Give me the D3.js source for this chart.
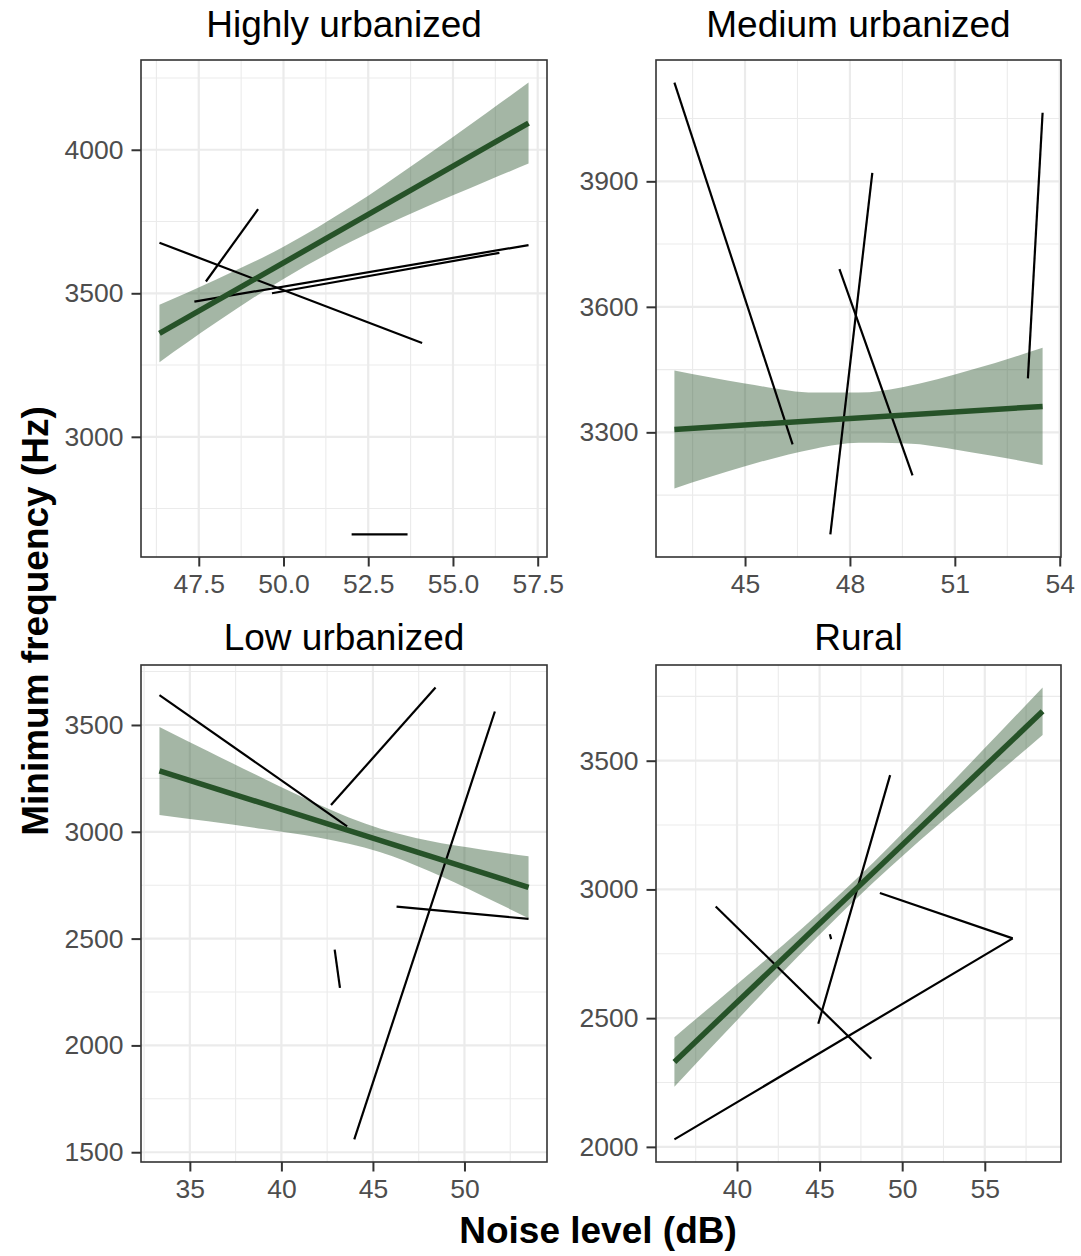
<!DOCTYPE html>
<html><head><meta charset="utf-8">
<script src="https://cdn.jsdelivr.net/npm/d3@7"></script>
<style>
body{margin:0;background:#fff;}
text{font-family:"Liberation Sans", Arial, Helvetica, sans-serif;}
</style>
</head><body>
<svg id="c" width="1081" height="1256"></svg>
<script>
// ---------- DATA ----------
const panelTitles = ["Highly urbanized", "Medium urbanized", "Low urbanized", "Rural"];

// Highly urbanized
const hiFitX = [46.34, 57.23];
const hiFitY = [3360, 4093];
const hiBandX  = [46.34, 48, 50, 52, 54, 56, 57.23];
const hiBandLo = [3260, 3397, 3550, 3680, 3790, 3891, 3952];
const hiBandHi = [3460, 3547, 3662, 3802, 3962, 4129, 4234];
const hiSegs = [
  [46.34, 3676, 54.09, 3327],
  [47.71, 3541, 49.25, 3793],
  [47.37, 3471, 57.23, 3668],
  [49.66, 3500, 56.37, 3641],
  [52.01, 2660, 53.66, 2660]
];
const hiXTicks = [47.5, 50, 52.5, 55, 57.5];
const hiXLabels = ["47.5", "50.0", "52.5", "55.0", "57.5"];
const hiYTicks = [3000, 3500, 4000];

// Medium urbanized
const mdFitX = [42.98, 53.51];
const mdFitY = [3307, 3362];
const mdBandX  = [42.98, 45, 47, 48.25, 49.5, 51.5, 53.51];
const mdBandLo = [3166, 3219, 3261, 3275, 3274, 3252, 3222];
const mdBandHi = [3448, 3417, 3395, 3395, 3408, 3450, 3502];
const mdSegs = [
  [42.98, 4136, 46.36, 3271],
  [47.44, 3056, 48.64, 3920],
  [47.70, 3690, 49.79, 3197],
  [53.09, 3429, 53.51, 4064]
];
const mdXTicks = [45, 48, 51, 54];
const mdXLabels = ["45", "48", "51", "54"];
const mdYTicks = [3300, 3600, 3900];

// Low urbanized
const loFitX = [33.34, 53.5];
const loFitY = [3285, 2740];
const loBandX  = [33.34, 36, 39, 42, 45.37, 48, 51, 53.5];
const loBandLo = [3079, 3049, 3013, 2973, 2905, 2819, 2700, 2595];
const loBandHi = [3491, 3377, 3251, 3129, 3015, 2959, 2916, 2885];
const loSegs = [
  [33.34, 3640, 43.59, 3025],
  [42.71, 3125, 48.42, 3675],
  [43.98, 1560, 51.66, 3563],
  [46.29, 2650, 53.50, 2592],
  [42.91, 2448, 43.20, 2269]
];
const loXTicks = [35, 40, 45, 50];
const loXLabels = ["35", "40", "45", "50"];
const loYTicks = [1500, 2000, 2500, 3000, 3500];

// Rural
const ruFitX = [36.21, 58.5];
const ruFitY = [2330, 3692];
const ruBandX  = [36.21, 40, 44, 47.36, 51, 55, 58.5];
const ruBandLo = [2234, 2492, 2760, 2973, 3186, 3407, 3600];
const ruBandHi = [2426, 2632, 2852, 3049, 3282, 3549, 3784];
const ruSegs = [
  [36.21, 2029, 56.69, 2810],
  [48.65, 2986, 56.69, 2810],
  [38.71, 2934, 48.13, 2342],
  [44.92, 2478, 49.27, 3444],
  [45.62, 2826, 45.70, 2807]
];
const ruXTicks = [40, 45, 50, 55];
const ruXLabels = ["40", "45", "50", "55"];
const ruYTicks = [2000, 2500, 3000, 3500];

const xTitle = "Noise level (dB)";
const yTitle = "Minimum frequency (Hz)";

// ---------- LAYOUT ----------
const colsX = [[141, 547], [656, 1061]];
const rowsY = [[60, 557], [665, 1162]];
const titleBase = [37, 650];
const fitColor = "#265228";

const panels = [
  {fx: hiFitX, fy: hiFitY, bx: hiBandX, blo: hiBandLo, bhi: hiBandHi, segs: hiSegs, xt: hiXTicks, xl: hiXLabels, yt: hiYTicks},
  {fx: mdFitX, fy: mdFitY, bx: mdBandX, blo: mdBandLo, bhi: mdBandHi, segs: mdSegs, xt: mdXTicks, xl: mdXLabels, yt: mdYTicks},
  {fx: loFitX, fy: loFitY, bx: loBandX, blo: loBandLo, bhi: loBandHi, segs: loSegs, xt: loXTicks, xl: loXLabels, yt: loYTicks},
  {fx: ruFitX, fy: ruFitY, bx: ruBandX, blo: ruBandLo, bhi: ruBandHi, segs: ruSegs, xt: ruXTicks, xl: ruXLabels, yt: ruYTicks}
];

const svg = d3.select("#c");
svg.append("rect").attr("width", 1081).attr("height", 1256).attr("fill", "#fff");

function expand(ext) {
  const d = (ext[1] - ext[0]) * 0.05;
  return [ext[0] - d, ext[1] + d];
}
function minorBreaks(major, dom) {
  const step = major[1] - major[0];
  const ext = [major[0] - step, ...major, major[major.length - 1] + step];
  const out = [];
  for (let i = 0; i < ext.length - 1; i++) {
    const m = (ext[i] + ext[i + 1]) / 2;
    if (m >= dom[0] && m <= dom[1]) out.push(m);
  }
  return out;
}

panels.forEach((p, i) => {
  const [x0, x1] = colsX[i % 2];
  const [y0, y1] = rowsY[Math.floor(i / 2)];
  const allX = [...p.fx, ...p.bx, ...p.segs.flatMap(s => [s[0], s[2]])];
  const allY = [...p.fy, ...p.blo, ...p.bhi, ...p.segs.flatMap(s => [s[1], s[3]])];
  const xDom = expand(d3.extent(allX));
  const yDom = expand(d3.extent(allY));
  const x = d3.scaleLinear().domain(xDom).range([x0, x1]);
  const y = d3.scaleLinear().domain(yDom).range([y1, y0]);

  const g = svg.append("g");
  const cid = "clip" + i;
  g.append("clipPath").attr("id", cid).append("rect")
    .attr("x", x0).attr("y", y0).attr("width", x1 - x0).attr("height", y1 - y0);
  const pg = g.append("g").attr("clip-path", `url(#${cid})`);

  // minor grid
  minorBreaks(p.xt, xDom).forEach(v => {
    pg.append("line").attr("x1", x(v)).attr("x2", x(v)).attr("y1", y0).attr("y2", y1)
      .attr("stroke", "#EBEBEB").attr("stroke-width", 1.1);
  });
  minorBreaks(p.yt, yDom).forEach(v => {
    pg.append("line").attr("y1", y(v)).attr("y2", y(v)).attr("x1", x0).attr("x2", x1)
      .attr("stroke", "#EBEBEB").attr("stroke-width", 1.1);
  });
  // major grid
  p.xt.forEach(v => {
    pg.append("line").attr("x1", x(v)).attr("x2", x(v)).attr("y1", y0).attr("y2", y1)
      .attr("stroke", "#EBEBEB").attr("stroke-width", 2.2);
  });
  p.yt.forEach(v => {
    pg.append("line").attr("y1", y(v)).attr("y2", y(v)).attr("x1", x0).attr("x2", x1)
      .attr("stroke", "#EBEBEB").attr("stroke-width", 2.2);
  });

  // ribbon
  const band = p.bx.map((v, k) => ({x: v, lo: p.blo[k], hi: p.bhi[k]}));
  pg.append("path").datum(band)
    .attr("d", d3.area().x(d => x(d.x)).y0(d => y(d.lo)).y1(d => y(d.hi)).curve(d3.curveMonotoneX))
    .attr("fill", fitColor).attr("fill-opacity", 0.42);

  // segments
  pg.selectAll("line.seg").data(p.segs).enter().append("line").attr("class", "seg")
    .attr("x1", d => x(d[0])).attr("y1", d => y(d[1]))
    .attr("x2", d => x(d[2])).attr("y2", d => y(d[3]))
    .attr("stroke", "#000").attr("stroke-width", 2.2);

  // fit line
  const fit = p.fx.map((v, k) => [v, p.fy[k]]);
  pg.append("path").datum(fit)
    .attr("d", d3.line().x(d => x(d[0])).y(d => y(d[1])))
    .attr("fill", "none").attr("stroke", fitColor).attr("stroke-width", 5.5);

  // border
  g.append("rect").attr("x", x0).attr("y", y0).attr("width", x1 - x0).attr("height", y1 - y0)
    .attr("fill", "none").attr("stroke", "#333333").attr("stroke-width", 1.6);

  // axes
  const xAxis = d3.axisBottom(x).tickValues(p.xt).tickFormat((d, k) => p.xl[k]).tickSize(9.5).tickPadding(8);
  const xa = g.append("g").attr("transform", `translate(0,${y1})`).call(xAxis);
  const yAxis = d3.axisLeft(y).tickValues(p.yt).tickFormat(d3.format("d")).tickSize(9.5).tickPadding(8);
  const ya = g.append("g").attr("transform", `translate(${x0},0)`).call(yAxis);
  [xa, ya].forEach(a => {
    a.select(".domain").remove();
    a.selectAll(".tick line").attr("stroke", "#333333").attr("stroke-width", 2);
    a.selectAll(".tick text").attr("fill", "#4D4D4D").style("font-size", "26.5px")
      .style("font-family", '"Liberation Sans", Arial, sans-serif');
  });
  xa.selectAll(".tick text").attr("dy", "0.71em");

  // strip title
  g.append("text").attr("x", (x0 + x1) / 2).attr("y", titleBase[Math.floor(i / 2)])
    .attr("text-anchor", "middle").attr("fill", "#000").style("font-size", "37px")
    .text(panelTitles[i]);
});

// axis titles
svg.append("text").attr("x", 598).attr("y", 1243).attr("text-anchor", "middle")
  .style("font-size", "37px").style("font-weight", "bold").text(xTitle);
svg.append("text").attr("transform", "translate(48,621) rotate(-90)").attr("text-anchor", "middle")
  .style("font-size", "37px").style("font-weight", "bold").text(yTitle);
</script>
</body></html>
